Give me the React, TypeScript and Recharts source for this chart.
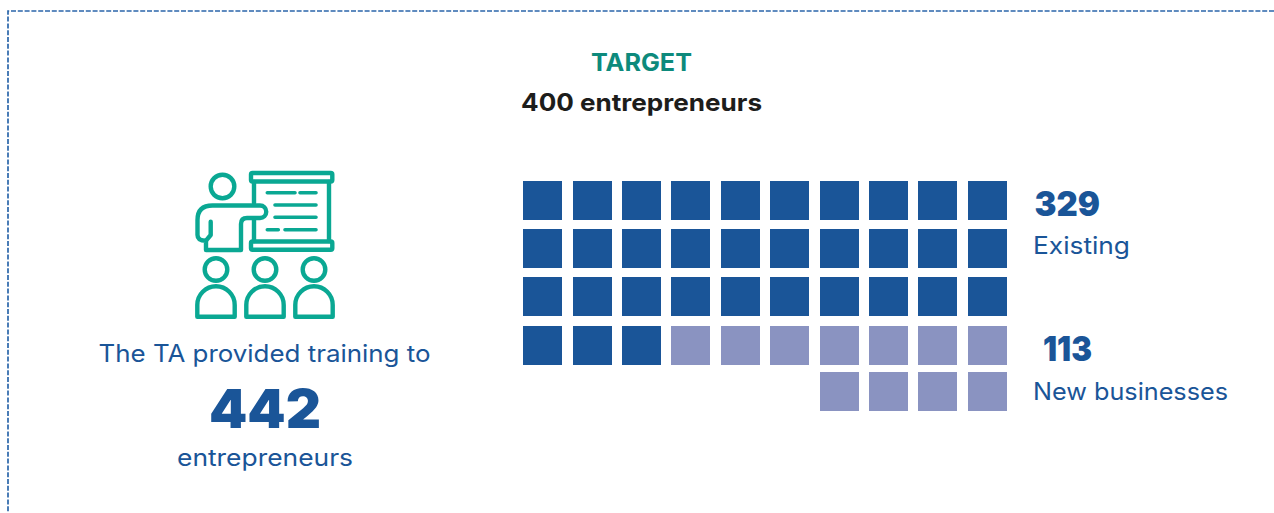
import React from 'react';
import { ScatterChart, Scatter, XAxis, YAxis } from 'recharts';

const WIDTH = 1274;
const HEIGHT = 513;

// Headline figures
const EXISTING_COUNT = 329;
const NEW_COUNT = 113;
const TOTAL_TRAINED = 442;
const TARGET_COUNT = 400;

// One square per ten entrepreneurs, filled row by row; the last row is right-aligned
const COLUMNS = [0, 1, 2, 3, 4, 5, 6, 7, 8, 9];
const RIGHT_COLUMNS = [6, 7, 8, 9];
const EXISTING_FULL_ROWS = [0, 1, 2];
const MIXED_ROW = 3;
const LAST_ROW = 4;
const MIXED_ROW_SPLIT = 3;

const existingCells = [
  ...EXISTING_FULL_ROWS.flatMap((row) => COLUMNS.map((col) => ({ col, row }))),
  ...COLUMNS.slice(0, MIXED_ROW_SPLIT).map((col) => ({ col, row: MIXED_ROW })),
];
const newCells = [
  ...COLUMNS.slice(MIXED_ROW_SPLIT).map((col) => ({ col, row: MIXED_ROW })),
  ...RIGHT_COLUMNS.map((col) => ({ col, row: LAST_ROW })),
];

const BLUE = '#1a5598';
const LILAC = '#8a93c1';
const TEAL = '#0aa893';
const SQUARE = 39;

const FONT = 'Inter, "Open Sans", sans-serif';

// The rows are not evenly spaced: the last one sits a little closer to the row above it
const ROW_STOPS = [0, 48 / 191, 96 / 191, 145 / 191, 1];

function rowScale(domain: number[] = [0, 4], range: number[] = [0, 1]): any {
  const scale: any = (value: number) => {
    const i = Math.min(Math.floor(value), ROW_STOPS.length - 2);
    const t = ROW_STOPS[i] + (ROW_STOPS[i + 1] - ROW_STOPS[i]) * (value - i);
    return range[0] + (range[1] - range[0]) * t;
  };
  scale.domain = (d?: number[]) => (d ? rowScale(d, range) : domain);
  scale.range = (r?: number[]) => (r ? rowScale(domain, r) : range);
  scale.copy = () => rowScale(domain, range);
  scale.ticks = () => [0, 1, 2, 3, 4];
  return scale;
}

const Square = (props: any) => {
  const x = Math.round(props.cx - SQUARE / 2);
  const y = Math.round(props.cy - SQUARE / 2);
  return <rect x={x} y={y} width={SQUARE} height={SQUARE} fill={props.fill} />;
};

const Label = ({ x, y, size, weight, fill, len, anchor, children }: any) => (
  <text
    x={x}
    y={y}
    fontFamily={FONT}
    fontSize={size}
    fontWeight={weight}
    fill={fill}
    textAnchor={anchor ?? 'start'}
    textLength={len}
    lengthAdjust="spacingAndGlyphs"
  >
    {children}
  </text>
);

const Audience = ({ cx }: { cx: number }) => (
  <g>
    <circle cx={cx} cy={269.5} r={11.3} />
    <path d={`M${cx - 18.7} 316.7 V305 a18.7 18.7 0 0 1 37.4 0 V316.7 Z`} />
  </g>
);

// Trainer pointing at a board, with three people in front of it
const TrainingIcon = () => (
  <g fill="none" stroke={TEAL} strokeWidth={4.4} strokeLinecap="round" strokeLinejoin="round">
    <circle cx={222.5} cy={186.5} r={11.8} />
    <rect x={251} y={173} width={81.3} height={8.5} rx={1.5} />
    <rect x={251} y={241.5} width={81.3} height={8.3} rx={1.5} />
    <path d="M254 182 V203 M254 220 V241 M329 182 V241" />
    <path
      d="M260 205.5 H212.5 Q197.5 205.5 197.5 220 V235 Q197.5 240.7 206 240.7 V250 H241 V224 Q241 218 247 218 H260 A6.25 6.25 0 0 0 260 205.5 Z"
    />
    <path d="M210.7 221.7 V235 L206 240.7" />
    <path
      strokeWidth={3.6}
      d="M267.3 192.7 H295 M300 192.7 H316 M275 205 H316 M275 217.3 H316 M267.3 229.7 H278.3 M285 229.7 H316"
    />
    <Audience cx={216} />
    <Audience cx={265} />
    <Audience cx={314} />
  </g>
);

export default function App() {
  return (
    <div style={{ position: 'absolute', left: 0, top: 0, width: WIDTH, height: HEIGHT, background: '#fff' }}>
      <ScatterChart
        width={WIDTH}
        height={HEIGHT}
        margin={{ left: 542.6, right: 286.8, top: 200.5, bottom: 121.5 }}
      >
        <XAxis type="number" dataKey="col" domain={[0, 9]} hide />
        <YAxis type="number" dataKey="row" domain={[0, 4]} scale={rowScale()} reversed hide />
        <Scatter data={existingCells} fill={BLUE} shape={Square} isAnimationActive={false} />
        <Scatter data={newCells} fill={LILAC} shape={Square} isAnimationActive={false} />

        <path
          d="M1274 11 H8 V513"
          fill="none"
          stroke="#2b66aa"
          strokeWidth={1.7}
          strokeDasharray="5 1.8"
        />

        <Label x={591} y={71} size={24} weight={700} fill="#0d8a7c" len={101}>TARGET</Label>
        <Label x={521} y={111} size={24} weight={700} fill="#1d1d1b" len={241}>{TARGET_COUNT} entrepreneurs</Label>

        <TrainingIcon />

        <Label x={98.5} y={362} size={24} weight={400} fill={BLUE} len={332}>The TA provided training to</Label>
        <Label x={209} y={427.5} size={54} weight={900} fill={BLUE} len={112}>{TOTAL_TRAINED}</Label>
        <Label x={177} y={466} size={24} weight={400} fill={BLUE} len={176}>entrepreneurs</Label>

        <Label x={1034.5} y={215.5} size={34} weight={900} fill={BLUE} len={65.5}>{EXISTING_COUNT}</Label>
        <Label x={1033} y={254} size={24} weight={400} fill={BLUE} len={97}>Existing</Label>
        <Label x={1043} y={360.5} size={34} weight={900} fill={BLUE} len={49}>{NEW_COUNT}</Label>
        <Label x={1033} y={400} size={24} weight={400} fill={BLUE} len={195}>New businesses</Label>
      </ScatterChart>
    </div>
  );
}
